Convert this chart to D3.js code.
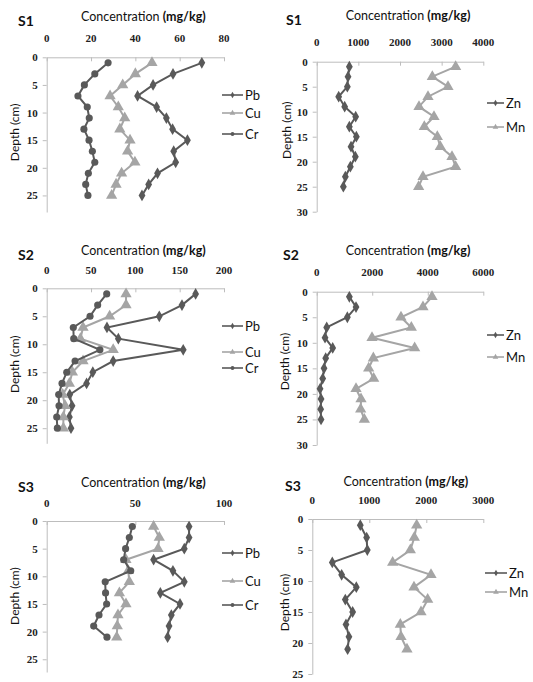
<!DOCTYPE html>
<html>
<head>
<meta charset="utf-8">
<script src="https://cdn.jsdelivr.net/npm/d3@7"></script>
<style>
  body { margin: 0; background: #fff; }
  svg { display: block; }
  .tick-label { font-family: "Liberation Serif", serif; font-weight: bold; font-size: 11px; fill: #222; }
  .sans { font-family: Lato, "Open Sans", sans-serif; fill: #111; }
</style>
</head>
<body>
<svg width="533" height="682"></svg>
<script>
// depth of each sample (cm)
const depthS1 = [1, 3, 5, 7, 9, 11, 13, 15, 17, 19, 21, 23, 25];
const depthS2 = [1, 3, 5, 7, 9, 11, 13, 15, 17, 19, 21, 23, 25];
const depthS3 = [1, 3, 5, 7, 9, 11, 13, 15, 17, 19, 21];

// S1 concentrations (mg/kg)
const pbS1 = [70, 57, 48, 41, 49.6, 54, 56.8, 63.5, 57.3, 58.2, 50, 46, 43];
const cuS1 = [47.5, 40, 34.3, 28.6, 32.3, 35.2, 33, 37.6, 36.5, 39.8, 33.8, 31.3, 29.3];
const crS1 = [27.7, 21.7, 17, 14.1, 18.3, 19.2, 16.8, 19.1, 20.6, 21.7, 18.8, 17.6, 18.6];
const znS1 = [784, 752, 736, 528, 672, 936, 784, 952, 824, 928, 808, 688, 640];
const mnS1 = [3336, 2776, 3152, 2672, 2456, 2816, 2584, 2896, 2968, 3248, 3336, 2552, 2448];

// S2 concentrations (mg/kg)
const pbS2 = [168, 152.6, 127, 68, 80.8, 154, 75, 52, 45, 26, 28.6, 25.6, 27.4];
const cuS2 = [89.5, 89.5, 71, 41, 38, 75, 41, 29, 25.6, 18, 20.7, 18.8, 18.8];
const crS2 = [67.7, 57.5, 48.9, 30, 30.5, 60, 32, 22.6, 17.3, 13.5, 13.9, 11.3, 12];
const znS2 = [1176, 1416, 1104, 360, 300, 576, 324, 264, 216, 120, 156, 144, 156];
const mnS2 = [4152, 3828, 3036, 3408, 1992, 3528, 2040, 1872, 2052, 1416, 1596, 1584, 1716];

// S3 concentrations (mg/kg)
const pbS3 = [80.3, 80.3, 77.6, 60.3, 71.2, 77.6, 64.1, 75.2, 70.3, 69, 68.2];
const cuS3 = [60.3, 63.5, 62.8, 44.7, 46, 46.6, 41, 44.7, 40.2, 39.8, 39.5];
const crS3 = [48.3, 46.6, 44.5, 43.4, 47.4, 33, 33.2, 33.8, 29.5, 26.5, 34];
const znS3 = [842, 953, 965, 351, 515, 772, 579, 708, 591, 643, 620];
const mnS3 = [1831, 1790, 1720, 1410, 2083, 1784, 2024, 1907, 1544, 1556, 1661];

// axis ticks
const xTicksS1a = [0, 20, 40, 60, 80];
const xTicksS1b = [0, 1000, 2000, 3000, 4000];
const xTicksS2a = [0, 50, 100, 150, 200];
const xTicksS2b = [0, 2000, 4000, 6000];
const xTicksS3a = [0, 50, 100];
const xTicksS3b = [0, 1000, 2000, 3000];
const yTicks25 = [0, 5, 10, 15, 20, 25];
const yTicks30 = [0, 5, 10, 15, 20, 25, 30];

const dark = "#595959", light = "#a5a5a5";

const svg = d3.select("svg");

const panels = [
  { name: "S1", left: 46.7, right: 224, top: 57.3, bottom: 212, yMax: 28, xTicks: xTicksS1a, yTicks: yTicks25,
    depth: depthS1, titleY: 21, tickY: 42, nameX: 18, depthX: 15, legX: 222, legLen: 21, sep: " ",
    series: [{ key: "Pb", v: pbS1, c: dark, m: "diamond", ly: 95 },
             { key: "Cu", v: cuS1, c: light, m: "triangle", ly: 113 },
             { key: "Cr", v: crS1, c: dark, m: "circle", ly: 134 }] },
  { name: "S1", left: 316.7, right: 483.3, top: 61.7, bottom: 211.7, yMax: 30, xTicks: xTicksS1b, yTicks: yTicks30,
    depth: depthS1, titleY: 20, tickY: 46, nameX: 286, depthX: 287, legX: 487, legLen: 17, sep: "  ",
    series: [{ key: "Zn", v: znS1, c: dark, m: "diamond", ly: 103 },
             { key: "Mn", v: mnS1, c: light, m: "triangle", ly: 127 }] },
  { name: "S2", left: 46.7, right: 224, top: 288.3, bottom: 443.3, yMax: 27.7, xTicks: xTicksS2a, yTicks: yTicks25,
    depth: depthS2, titleY: 255, tickY: 274, nameX: 18, depthX: 15, legX: 222, legLen: 21, sep: " ",
    series: [{ key: "Pb", v: pbS2, c: dark, m: "diamond", ly: 326 },
             { key: "Cu", v: cuS2, c: light, m: "triangle", ly: 352 },
             { key: "Cr", v: crS2, c: dark, m: "circle", ly: 368 }] },
  { name: "S2", left: 316.7, right: 483.3, top: 291.7, bottom: 445, yMax: 30, xTicks: xTicksS2b, yTicks: yTicks30,
    depth: depthS2, titleY: 255, tickY: 276, nameX: 283, depthX: 285, legX: 487, legLen: 17, sep: "",
    series: [{ key: "Zn", v: znS2, c: dark, m: "diamond", ly: 335 },
             { key: "Mn", v: mnS2, c: light, m: "triangle", ly: 357 }] },
  { name: "S3", left: 46.7, right: 224, top: 521, bottom: 672, yMax: 27.3, xTicks: xTicksS3a, yTicks: yTicks25,
    depth: depthS3, titleY: 487, tickY: 507, nameX: 18, depthX: 15, legX: 222, legLen: 21, sep: " ",
    series: [{ key: "Pb", v: pbS3, c: dark, m: "diamond", ly: 553 },
             { key: "Cu", v: cuS3, c: light, m: "triangle", ly: 581 },
             { key: "Cr", v: crS3, c: dark, m: "circle", ly: 605 }] },
  { name: "S3", left: 312.3, right: 483.3, top: 519, bottom: 674, yMax: 25, xTicks: xTicksS3b, yTicks: yTicks25,
    depth: depthS3, titleY: 486, tickY: 504, nameX: 285, depthX: 285, legX: 485, legLen: 22, sep: "  ",
    series: [{ key: "Zn", v: znS3, c: dark, m: "diamond", ly: 573 },
             { key: "Mn", v: mnS3, c: light, m: "triangle", ly: 592 }] }
];

const symbols = {
  diamond: d3.symbol().type(d3.symbolDiamond).size(40),
  triangle: d3.symbol().type(d3.symbolTriangle).size(55),
  circle: d3.symbol().type(d3.symbolCircle).size(40)
};
const legendSymbols = {
  diamond: d3.symbol().type(d3.symbolDiamond).size(12),
  triangle: d3.symbol().type(d3.symbolTriangle).size(14),
  circle: d3.symbol().type(d3.symbolCircle).size(12)
};

panels.forEach(drawPanel);

function drawPanel(p) {
  const xMax = p.xTicks[p.xTicks.length - 1];
  const x = d3.scaleLinear().domain([0, xMax]).range([p.left, p.right]);
  const y = d3.scaleLinear().domain([0, p.yMax]).range([p.top, p.bottom]);
  const g = svg.append("g");

  // top x axis: ticks point down into the plot, labels above
  const xAxis = g.append("g").attr("transform", `translate(0,${p.top})`)
      .call(d3.axisBottom(x).tickValues(p.xTicks).tickSize(4).tickSizeOuter(0).tickFormat(""));
  xAxis.select(".domain").attr("stroke", "#bdbdbd");
  xAxis.selectAll(".tick line").attr("stroke", "#bdbdbd");
  g.selectAll(".xlab").data(p.xTicks).join("text")
      .attr("class", "tick-label")
      .attr("x", d => x(d)).attr("y", p.tickY)
      .attr("text-anchor", "middle")
      .text(d => d);

  // left y axis
  const yAxis = g.append("g").attr("transform", `translate(${p.left},0)`)
      .call(d3.axisLeft(y).tickValues(p.yTicks).tickSize(4).tickSizeOuter(0).tickFormat(""));
  yAxis.select(".domain").attr("stroke", "#bdbdbd");
  yAxis.selectAll(".tick line").attr("stroke", "#bdbdbd");
  g.selectAll(".ylab").data(p.yTicks).join("text")
      .attr("class", "tick-label")
      .attr("x", p.left - 9).attr("y", d => y(d) + 4)
      .attr("text-anchor", "end")
      .text(d => d);

  // panel name and axis titles
  g.append("text").attr("class", "sans")
      .attr("x", p.nameX).attr("y", p.titleY + 5)
      .style("font-size", "14px").style("font-weight", "bold")
      .text(p.name);
  const title = g.append("text").attr("class", "sans")
      .attr("x", (p.left + p.right) / 2 + 8).attr("y", p.titleY)
      .attr("text-anchor", "middle").style("font-size", "12.5px");
  title.append("tspan").text("Concentration " + p.sep);
  title.append("tspan").style("font-weight", "bold").text("(mg/kg)");

  g.append("text").attr("class", "sans")
      .attr("transform", `translate(${p.depthX + 4},${(p.top + y(25)) / 2 + 6}) rotate(-90)`)
      .attr("text-anchor", "middle").style("font-size", "12px")
      .text("Depth (cm)");

  // profiles
  p.series.forEach(s => {
    const pts = p.depth.map((d, i) => [x(s.v[i]), y(d)]);
    g.append("path")
        .attr("d", d3.line()(pts))
        .attr("fill", "none")
        .attr("stroke", s.c)
        .attr("stroke-width", 2);
    g.selectAll(null).data(pts).join("path")
        .attr("transform", d => `translate(${d[0]},${d[1]})`)
        .attr("d", symbols[s.m]())
        .attr("fill", s.c);

    // legend entry
    g.append("line")
        .attr("x1", p.legX).attr("x2", p.legX + p.legLen)
        .attr("y1", s.ly).attr("y2", s.ly)
        .attr("stroke", s.c).attr("stroke-width", 1.6);
    g.append("path")
        .attr("transform", `translate(${p.legX + p.legLen / 2},${s.ly})`)
        .attr("d", legendSymbols[s.m]())
        .attr("fill", s.c);
    g.append("text").attr("class", "sans")
        .attr("x", p.legX + p.legLen + 2).attr("y", s.ly + 5)
        .style("font-size", "13px")
        .text(s.key);
  });
}
</script>
</body>
</html>
